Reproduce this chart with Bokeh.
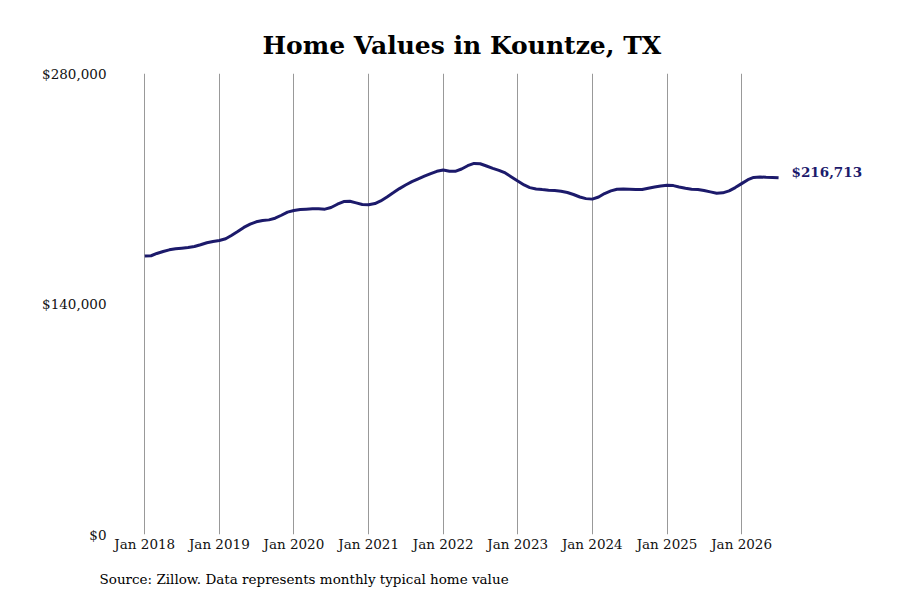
import pandas as pd
from bokeh.plotting import figure
from bokeh.models import Label, Title, FixedTicker, NumeralTickFormatter, DatetimeTickFormatter, Range1d
from bokeh.embed import file_html
from bokeh.resources import INLINE

FONT = "DejaVu Serif"
LINE_COLOR = "#1c1a6b"

# monthly typical home value, Jan 2018 .. Jul 2026
start_month = "2018-01-01"
home_values = [
    169100, 169300, 170700, 171900, 172900, 173500, 173900, 174300, 174900, 176000, 177200, 178000,
    178600, 179600, 181600, 184000, 186500, 188500, 189900, 190700, 191100, 192100, 193900, 195800,
    196800, 197400, 197600, 197800, 197800, 197600, 198600, 200600, 202200, 202400, 201400, 200400,
    200300, 201000, 202600, 205000, 207500, 210100, 212300, 214300, 216000, 217600, 219200, 220600,
    221400, 220600, 220600, 222000, 224000, 225400, 225200, 223800, 222400, 221200, 219600, 217200,
    214700, 212300, 210700, 209900, 209500, 209100, 208900, 208500, 207700, 206500, 205000, 204000,
    203700, 205000, 207100, 208700, 209700, 209900, 209700, 209500, 209500, 210300, 211100, 211700,
    212100, 211900, 211100, 210300, 209700, 209500, 208900, 208100, 207300, 207500, 208700, 210700,
    213100, 215500, 216900, 217100, 217000, 216900, 216713,
]
y_ticks = [0, 140000, 280000]
tick_years = list(range(2018, 2027))
title_text = "Home Values in Kountze, TX"
source_text = "Source: Zillow. Data represents monthly typical home value"

dates = pd.date_range(start_month, periods=len(home_values), freq="MS")
tick_dates = [pd.Timestamp(f"{y}-01-01").value / 1e6 for y in tick_years]

p = figure(width=884, height=600, x_axis_type="datetime",
           x_range=Range1d(pd.Timestamp("2017-07-27"), pd.Timestamp("2027-11-12")),
           y_range=Range1d(0, 280000),
           output_backend="svg", toolbar_location=None,
           min_border_left=112, min_border_right=4, min_border_top=73, min_border_bottom=65)

p.line(dates, home_values, line_width=3, color=LINE_COLOR)

last = Label(x=dates[-1], y=home_values[-1], x_offset=13, y_offset=6, text=f"${home_values[-1]:,}",
             text_font=FONT, text_font_size="13.5px", text_font_style="bold",
             text_color=LINE_COLOR, text_baseline="middle")
p.add_layout(last)

p.title.text = title_text
p.title.text_font = FONT
p.title.text_font_size = "25px"
p.title.text_font_style = "bold"
p.title.text_color = "#000000"
p.title.align = "left"
p.title.offset = 150
p.title.standoff = 27

src = Title(text=source_text, align="left", offset=-13, text_font=FONT,
            text_font_size="13.5px", text_font_style="normal", text_color="#000000",
            standoff=28)
p.add_layout(src, "below")

p.xaxis.ticker = FixedTicker(ticks=tick_dates)
p.xaxis.formatter = DatetimeTickFormatter(years="%b %Y", months="%b %Y", days="%b %Y")
p.yaxis.ticker = FixedTicker(ticks=y_ticks)
p.yaxis.formatter = NumeralTickFormatter(format="$0,0")

for ax in (p.xaxis, p.yaxis):
    ax.axis_line_color = None
    ax.major_tick_line_color = None
    ax.minor_tick_line_color = None
    ax.major_tick_out = 0
    ax.major_tick_in = 0
    ax.minor_tick_out = 0
    ax.major_label_text_font = FONT
    ax.major_label_text_font_size = "13.5px"
    ax.major_label_text_color = "#111111"
p.xaxis.major_label_standoff = 1
p.yaxis.major_label_standoff = 6

p.xgrid.grid_line_color = "#999999"
p.xgrid.grid_line_width = 1
p.ygrid.grid_line_color = None
p.outline_line_color = None

open("out.html", "w").write(file_html(p, INLINE))
